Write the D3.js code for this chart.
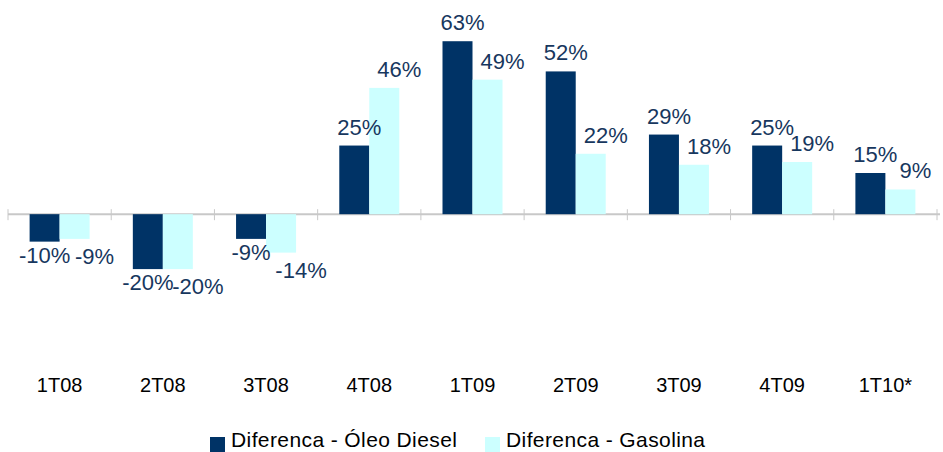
<!DOCTYPE html>
<html>
<head>
<meta charset="utf-8">
<script src="https://cdn.jsdelivr.net/npm/d3@7"></script>
<style>
  body { margin: 0; background: #fff; }
  text { font-family: "Liberation Sans", Arial, sans-serif; }
</style>
</head>
<body>
<div id="chart"></div>
<script>
var categories = ["1T08", "2T08", "3T08", "4T08", "1T09", "2T09", "3T09", "4T09", "1T10*"];
var seriesNames = ["Diferenca - Óleo Diesel", "Diferenca - Gasolina"];
var diesel = [-10, -20, -9, 25, 63, 52, 29, 25, 15];
var gasolina = [-9, -20, -14, 46, 49, 22, 18, 19, 9];

var width = 943,
    height = 452,
    colors = ["#003366", "#ccffff"],
    labelColor = "#17375e";

var rows = categories.map(function (c, i) {
  return { cat: c, values: [diesel[i], gasolina[i]] };
});

var svg = d3.select("#chart").append("svg")
  .attr("width", width)
  .attr("height", height);

var x = d3.scaleBand()
  .domain(categories)
  .range([8, 937])
  .paddingInner(0)
  .paddingOuter(0);

var groupW = 60;
var x1 = d3.scaleBand()
  .domain([0, 1])
  .range([(x.bandwidth() - groupW) / 2, (x.bandwidth() + groupW) / 2]);

var y = d3.scaleLinear()
  .domain([-40, 70])
  .range([324, 22]);

// zero axis with category ticks
svg.append("line")
  .attr("x1", 8)
  .attr("x2", 940)
  .attr("y1", y(0))
  .attr("y2", y(0))
  .style("stroke", "#c8c8c8")
  .style("stroke-width", 2);

var tickPos = categories.map(function (c) { return x(c); }).concat([x.range()[1]]);
svg.selectAll("line.tick")
  .data(tickPos)
  .enter().append("line")
    .attr("class", "tick")
    .attr("x1", function (d) { return d; })
    .attr("x2", function (d) { return d; })
    .attr("y1", y(0) - 5)
    .attr("y2", y(0) + 6)
    .style("stroke", "#c8c8c8")
    .style("stroke-width", 1);

var groups = svg.selectAll("g.grp")
  .data(rows)
  .enter().append("g")
    .attr("class", "grp")
    .attr("transform", function (d) { return "translate(" + x(d.cat) + ",0)"; });

groups.selectAll("rect")
  .data(function (d) { return d.values.map(function (v, s) { return { v: v, s: s }; }); })
  .enter().append("rect")
    .attr("x", function (d) { return x1(d.s); })
    .attr("width", x1.bandwidth())
    .attr("y", function (d) { return y(Math.max(0, d.v)); })
    .attr("height", function (d) { return Math.abs(y(d.v) - y(0)); })
    .attr("fill", function (d) { return colors[d.s]; });

groups.selectAll("text.val")
  .data(function (d) { return d.values.map(function (v, s) { return { v: v, s: s }; }); })
  .enter().append("text")
    .attr("class", "val")
    .attr("text-anchor", "middle")
    .attr("fill", labelColor)
    .style("font-size", "22px")
    .attr("x", function (d) {
      var dx = d.s === 0 ? (d.v >= 0 ? 5 : 0) : (d.v >= 0 ? 15 : 20);
      return x1(d.s) + x1.bandwidth() / 2 + dx;
    })
    .attr("y", function (d) {
      if (d.v >= 0) return y(d.v) - 11;
      return y(d.v) + (d.s === 0 ? 21 : 25);
    })
    .text(function (d) { return d.v + "%"; });

// category labels
svg.selectAll("text.cat")
  .data(categories)
  .enter().append("text")
    .attr("class", "cat")
    .attr("text-anchor", "middle")
    .attr("fill", "#000")
    .style("font-size", "20px")
    .attr("x", function (d) { return x(d) + x.bandwidth() / 2; })
    .attr("y", 392)
    .text(function (d) { return d; });

// legend
var legendX = [210, 485];
var legend = svg.selectAll("g.legend")
  .data(seriesNames)
  .enter().append("g")
    .attr("class", "legend")
    .attr("transform", function (d, i) { return "translate(" + legendX[i] + ",0)"; });

legend.append("rect")
  .attr("x", 0)
  .attr("y", 437)
  .attr("width", 15)
  .attr("height", 15)
  .attr("fill", function (d, i) { return colors[i]; });

legend.append("text")
  .attr("x", 21)
  .attr("y", 447)
  .attr("fill", "#000")
  .style("font-size", "21px")
  .style("letter-spacing", "0.4px")
  .text(function (d) { return d; });
</script>
</body>
</html>
